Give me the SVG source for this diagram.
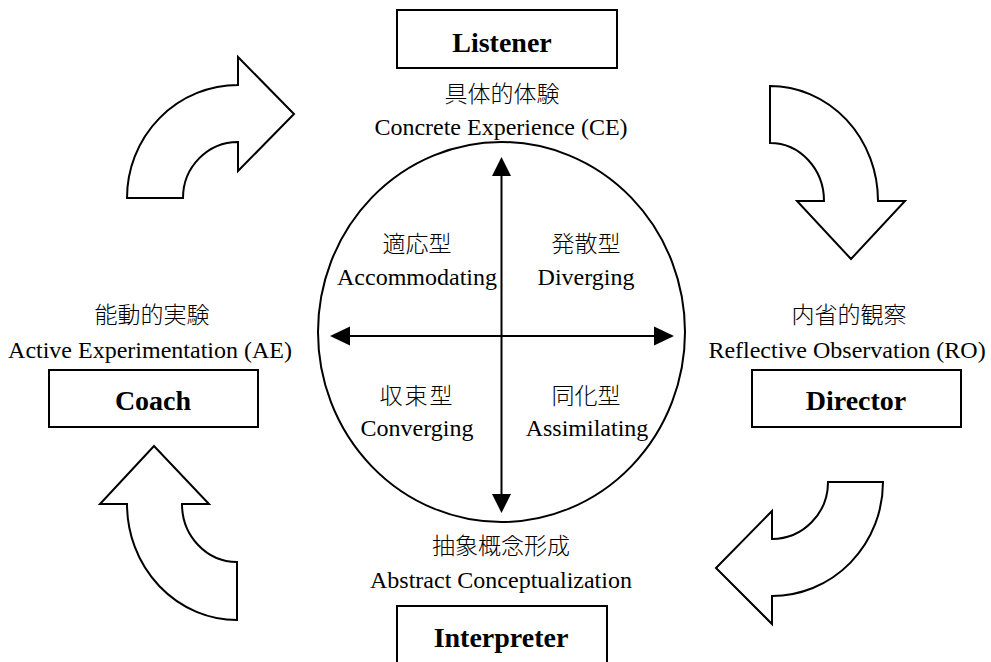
<svg xmlns="http://www.w3.org/2000/svg" width="991" height="662" viewBox="0 0 991 662">
<style>
.bg{fill:#fff}
.box{fill:#fff;stroke:#000;stroke-width:2}
.curve{fill:#fff;stroke:#000;stroke-width:2;stroke-linejoin:miter}
.axis{stroke:#000;stroke-width:2;fill:none}
.head{fill:#000}
.t{font-family:"Liberation Serif","Noto Sans CJK JP",serif;font-size:24px;fill:#000;text-anchor:middle}
.j{font-family:"Noto Sans CJK JP","Liberation Serif",serif;font-size:23px;font-weight:300;fill:#000;text-anchor:middle}
.b{font-family:"Liberation Serif",serif;font-size:28px;font-weight:bold;fill:#000;text-anchor:middle}
</style>
<rect class="bg" x="0" y="0" width="991" height="662"/>

<g id="cycle-arrows">
  <path id="arrow-tl" class="curve" d="M127,198 A111,113 0 0 1 238,85 L238,57 L294,114 L238,171 L238,142 A55,56 0 0 0 183,198 Z"/>
  <path id="arrow-tr" class="curve" d="M770,86 A108,115 0 0 1 878,201 L905,201 L851,259 L797,201 L824,201 A54,58 0 0 0 770,143 Z"/>
  <path id="arrow-br" class="curve" d="M828,482 L883,482 A111,114 0 0 1 772,596 L772,624 L716,568 L772,511 L772,539 A56,57 0 0 0 828,482 Z"/>
  <path id="arrow-bl" class="curve" d="M237,620 A110,116 0 0 1 127,504 L100,504 L154,446 L209,504 L182,504 A55,58 0 0 0 237,562 Z"/>
</g>

<g id="circle">
  <ellipse cx="501.5" cy="332" rx="183.5" ry="190" fill="none" stroke="#000" stroke-width="2"/>
</g>

<g id="connectors">
  <line class="axis" x1="501.5" y1="170" x2="501.5" y2="500"/>
  <line class="axis" x1="345" y1="336" x2="660" y2="336"/>
  <polygon class="head" points="501.5,157 492,176 511,176"/>
  <polygon class="head" points="501.5,513 492,494 511,494"/>
  <polygon class="head" points="330,336 350,326.5 350,345.5"/>
  <polygon class="head" points="674,336 654,326.5 654,345.5"/>
</g>

<g id="quadrant-accommodating">
  <text class="j" x="417" y="252">適応型</text>
  <text class="t" x="417" y="285">Accommodating</text>
</g>
<g id="quadrant-diverging">
  <text class="j" x="586" y="252">発散型</text>
  <text class="t" x="586" y="285">Diverging</text>
</g>
<g id="quadrant-converging">
  <text class="j" x="417" y="404" letter-spacing="2">収束型</text>
  <text class="t" x="417" y="436">Converging</text>
</g>
<g id="quadrant-assimilating">
  <text class="j" x="586" y="404">同化型</text>
  <text class="t" x="587" y="436">Assimilating</text>
</g>

<g id="listener">
  <rect class="box" x="397" y="10" width="220" height="58"/>
  <text class="b" x="502" y="52">Listener</text>
  <text class="j" x="502" y="102">具体的体験</text>
  <text class="t" x="501" y="135">Concrete Experience (CE)</text>
</g>

<g id="director">
  <text class="j" x="849" y="323">内省的観察</text>
  <text class="t" x="847" y="358">Reflective Observation (RO)</text>
  <rect class="box" x="752" y="370" width="209" height="57"/>
  <text class="b" x="856" y="410">Director</text>
</g>

<g id="interpreter">
  <text class="j" x="501" y="554">抽象概念形成</text>
  <text class="t" x="501" y="588">Abstract Conceptualization</text>
  <rect class="box" x="397" y="606" width="210" height="70"/>
  <text class="b" x="501" y="647">Interpreter</text>
</g>

<g id="coach">
  <text class="j" x="152" y="323">能動的実験</text>
  <text class="t" x="150" y="358">Active Experimentation (AE)</text>
  <rect class="box" x="49" y="370" width="209" height="57"/>
  <text class="b" x="153" y="410">Coach</text>
</g>
</svg>
